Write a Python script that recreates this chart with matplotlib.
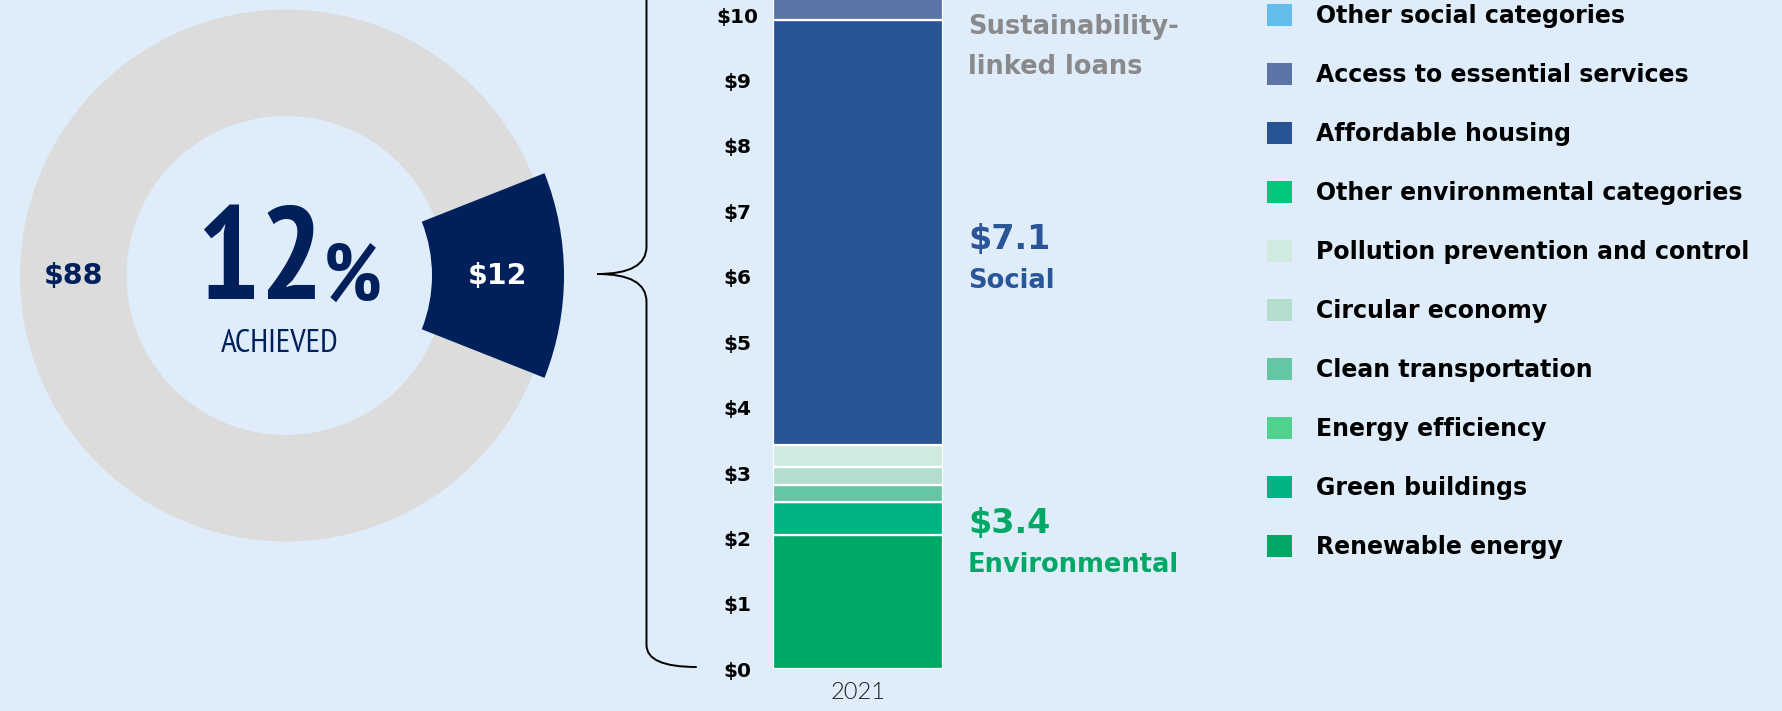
import matplotlib
matplotlib.use("Agg")
import matplotlib.pyplot as plt
from matplotlib import font_manager as fm
from matplotlib.path import Path
from matplotlib.patches import PathPatch
import numpy as np

# data
share_labels = ["Achieved", "Remaining"]
share_values = [12, 88]

year = "2021"
categories = ["Renewable energy", "Green buildings", "Energy efficiency",
              "Clean transportation", "Circular economy",
              "Pollution prevention and control", "Other environmental categories",
              "Affordable housing", "Access to essential services",
              "Other social categories"]
amounts = [2.06, 0.50, 0.0, 0.26, 0.27, 0.34, 0.0, 6.49, 0.61, 0.0]
groups = ["env"] * 7 + ["soc"] * 3
seg_colors = ["#00a866", "#00b383", "#4ed28e", "#64c6a2", "#b3ddcd",
              "#d0eadf", "#00c87a", "#285496", "#5b73a5", "#62bdeb"]
y_ticks = list(range(0, 11))

BG = "#dfedfa"
GREY = "#dcdcdc"
NAVY = "#00205b"
BLUE = "#2a5599"
GREEN = "#00a866"

plt.rcParams["font.family"] = "DejaVu Sans"

# look for an upright narrow face for the big percentage, else fall back to DejaVu
def is_narrow(f):
    slanted = any(k in f.fname.lower() for k in ("italic", "oblique", "slant")) or f.style != "normal"
    named = "Narrow" in f.name or "Condensed" in f.name or "Narrow" in f.fname or "Condensed" in f.fname
    return (named or f.stretch in ("condensed", "semi-condensed", "extra-condensed")) and not slanted

narrow = [f for f in fm.fontManager.ttflist if is_narrow(f)]
narrow.sort(key=lambda f: (0 if f.name == "Liberation Sans Narrow" else 1,
                           0 if "Narrow" in f.name else 1, f.name, f.fname))
narrow_bold = [f for f in narrow if f.weight in (600, 700, "bold", "semibold")]
if narrow_bold:
    nb = narrow_bold[0]
    regular = [f for f in narrow if f.name == nb.name and f.weight in (400, "normal", "regular")]
    big_font = dict(fontproperties=fm.FontProperties(fname=nb.fname))
    small_font = dict(fontproperties=fm.FontProperties(fname=(regular or [nb])[0].fname))
    big_sizes = (96, 58, 24)
else:
    big_font = dict(family="DejaVu Sans", fontweight="bold")
    small_font = big_font
    big_sizes = (72, 42, 17)

W, H = 1782, 711
fig = plt.figure(figsize=(W / 100, H / 100), dpi=100, facecolor=BG)

# donut
cx, cy, half = 286, 275.5, 300
ax_d = fig.add_axes([(cx - half) / W, (H - cy - half) / H, 2 * half / W, 2 * half / H])
start = -share_values[0] / 100 * 180
grey_w, _ = ax_d.pie(share_values, radius=266, startangle=start,
                     colors=["none", GREY], wedgeprops=dict(width=106.5, linewidth=0))
dark_w, _ = ax_d.pie(share_values, radius=278, startangle=start,
                     colors=[NAVY, "none"], wedgeprops=dict(width=132, linewidth=0))
ax_d.set_xlim(-half, half)
ax_d.set_ylim(-half, half)
ax_d.set_aspect("equal")
ax_d.set_axis_off()

for w, v, col in [(dark_w[0], share_values[0], "white"), (grey_w[1], share_values[1], NAVY)]:
    th = np.deg2rad((w.theta1 + w.theta2) / 2)
    r = w.r - w.width / 2
    ax_d.text(r * np.cos(th), r * np.sin(th), f"${v}", color=col, fontsize=20.5,
              fontweight="bold", ha="center", va="center")

t12 = ax_d.text(0, -23.5, f"{share_values[0]}", fontsize=big_sizes[0], color=NAVY,
                ha="left", va="baseline", **big_font)
tpc = ax_d.text(0, -25, "%", fontsize=big_sizes[1], color=NAVY,
                ha="left", va="baseline", **big_font)
ax_d.text(-6, -76, "ACHIEVED", fontsize=big_sizes[2], color=NAVY,
          ha="center", va="baseline", **small_font)
rend = fig.canvas.get_renderer()
w12 = t12.get_window_extent(rend).width
wpc = tpc.get_window_extent(rend).width
x0 = 2.5 - (w12 + wpc) / 2
t12.set_x(x0)
tpc.set_x(x0 + w12)

# stacked bar
ax_b = fig.add_axes([772.7 / W, 41.7 / H, 170 / W, 669.3 / H])
ax_b.set_facecolor("none")
bottom = 0
containers = []
for name, val, col in zip(categories, amounts, seg_colors):
    c = ax_b.bar(0, val, width=1.0, bottom=bottom, color=col,
                 edgecolor="white", linewidth=1.6, label=name)
    containers.append(c)
    bottom += val
ax_b.set_xlim(-0.5, 0.5)
ax_b.set_ylim(0, 10.23)
for s in ax_b.spines.values():
    s.set_visible(False)
ax_b.set_yticks(y_ticks)
ax_b.set_yticklabels([f"${t}" for t in y_ticks], fontsize=14.5, fontweight="bold", ha="center")
ax_b.tick_params(axis="y", length=0, pad=25.7)
ax_b.set_xticks([0])
ax_b.set_xticklabels([year], fontsize=17, family=["Lato", "DejaVu Sans"], fontweight=300,
                     color="#1a1a1a")
ax_b.tick_params(axis="x", length=0, pad=9)

env_total = sum(a for a, g in zip(amounts, groups) if g == "env")
soc_total = sum(a for a, g in zip(amounts, groups) if g == "soc")

# overlay in pixel coords for brace and notes
ax_o = fig.add_axes([0, 0, 1, 1])
ax_o.set_xlim(0, W)
ax_o.set_ylim(H, 0)
ax_o.set_axis_off()

bx = 646.5
verts = [(bx, -3), (bx, 246.7), (bx, 274), (597.3, 274), (bx, 274), (bx, 301.7),
         (bx, 645), (bx, 667), (696.7, 667)]
codes = [Path.MOVETO, Path.LINETO, Path.CURVE3, Path.CURVE3, Path.CURVE3, Path.CURVE3,
         Path.LINETO, Path.CURVE3, Path.CURVE3]
ax_o.add_patch(PathPatch(Path(verts, codes), facecolor="none", edgecolor="black", linewidth=1.4))

tx = 968
ax_o.text(tx, 34.3, "Sustainability-", color="#8a8a8c", fontsize=18.5, fontweight="bold", va="baseline")
ax_o.text(tx, 74, "linked loans", color="#8a8a8c", fontsize=18.5, fontweight="bold", va="baseline")
ax_o.text(tx, 249.3, f"${soc_total:.1f}", color=BLUE, fontsize=24, fontweight="bold", va="baseline")
ax_o.text(tx, 288.3, "Social", color=BLUE, fontsize=18.5, fontweight="bold", va="baseline")
ax_o.text(tx, 532.7, f"${env_total:.1f}", color=GREEN, fontsize=24, fontweight="bold", va="baseline")
ax_o.text(tx, 571.7, "Environmental", color=GREEN, fontsize=18.5, fontweight="bold", va="baseline")

# legend
leg = fig.legend(containers[::-1], categories[::-1], loc="upper left",
                 bbox_to_anchor=(1267 / W, 1 - 4.2 / H), frameon=False,
                 prop={"size": 17, "weight": "bold"}, handlelength=1.06, handleheight=1.06,
                 handletextpad=1.02, labelspacing=1.48, borderpad=0, borderaxespad=0)
for h in leg.legend_handles:
    h.set_linewidth(0)

fig.savefig("out.png", dpi=100, facecolor=BG)
